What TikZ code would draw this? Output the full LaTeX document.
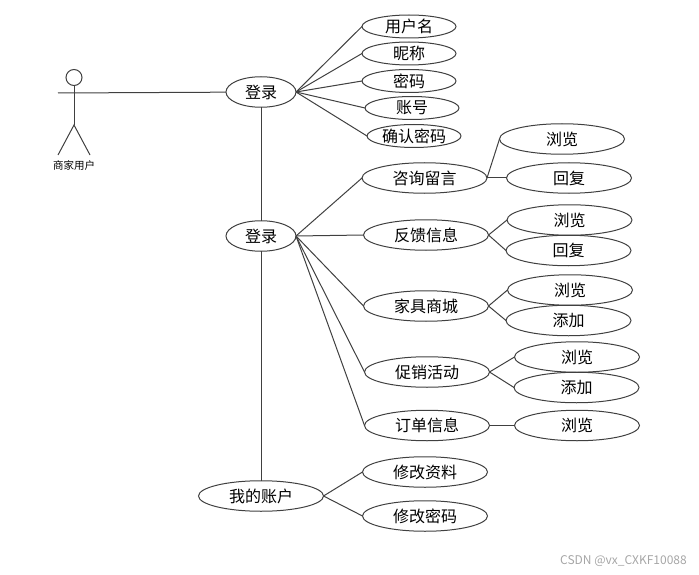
\documentclass[tikz,border=0pt]{standalone}
\usepackage{fontspec}
\setmainfont{Noto Sans CJK SC}
\usetikzlibrary{positioning,shapes.geometric}

\tikzset{
  usecase/.style = {draw, ellipse, inner sep=0pt, outer sep=0pt, on grid, line width=1pt, draw=black!75, font=\fontsize{16pt}{18pt}\selectfont},
  bigcase/.style = {usecase, minimum width=70pt, minimum height=30.5pt},
  midcase/.style = {usecase, minimum width=125pt, minimum height=30.5pt},
  smallcase/.style = {usecase, minimum width=94pt, minimum height=23pt},
  link/.style = {line width=1pt, draw=black!75}
}

\begin{document}
\begin{tikzpicture}
    \useasboundingbox (0pt,0pt) rectangle (699pt,-575pt);
    % usecases of the two levels
    \node (login) [bigcase] at (261pt,-92pt) {登录};
    \node (main) [bigcase, below = 144pt of login] {登录};
    \node (account) [midcase, below = 260pt of main] {我的账户};

    \node (username) [smallcase, above right = 65.5pt and 148pt of login] {用户名};
    \node (nickname) [smallcase, above right = 38.5pt and 148pt of login] {昵称};
    \node (password) [smallcase, above right = 11pt and 148pt of login] {密码};
    \node (number) [smallcase, below right = 16pt and 151pt of login] {账号};
    \node (confirm) [smallcase, below right = 44pt and 153pt of login] {确认密码};

    \node (consult) [midcase, above right = 58pt and 163.5pt of main] {咨询留言};
    \node (feedback) [midcase, above right = 1pt and 165pt of main] {反馈信息};
    \node (shop) [midcase, below right = 70pt and 165pt of main] {家具商城};
    \node (promo) [midcase, below right = 136pt and 166pt of main] {促销活动};
    \node (order) [midcase, below right = 189.5pt and 166pt of main] {订单信息};

    \node (edit) [midcase, above right = 24pt and 164pt of account] {修改资料};
    \node (change) [midcase, below right = 20pt and 164pt of account] {修改密码};

    % leaves
    \node (consultview) [midcase, above right = 39pt and 137.5pt of consult] {浏览};
    \node (consultreply) [midcase, right = 144.5pt of consult] {回复};
    \node (feedbackview) [midcase, above right = 15pt and 143.5pt of feedback] {浏览};
    \node (feedbackreply) [midcase, below right = 15.5pt and 142.5pt of feedback] {回复};
    \node (shopview) [midcase, above right = 16pt and 144pt of shop] {浏览};
    \node (shopadd) [midcase, below right = 14.5pt and 142.5pt of shop] {添加};
    \node (promoview) [midcase, above right = 15pt and 150pt of promo] {浏览};
    \node (promoadd) [midcase, below right = 15.5pt and 149.5pt of promo] {添加};
    \node (orderview) [midcase, right = 150pt of order] {浏览};

    % actor
    \node (head) [circle, draw=black!75, line width=1pt, inner sep=0pt, outer sep=0pt, minimum size=16pt] at (74pt,-77.5pt) {};
    \coordinate (hand) at (58pt,-93pt);
    \coordinate (hip) at (74pt,-125pt);
    \coordinate (footl) at (58pt,-155pt);
    \coordinate (footr) at (90pt,-155pt);
    \node (actor) [below = 5pt of hip |- footl, inner sep=0pt, font=\fontsize{10.5pt}{12pt}\selectfont, anchor=north] {商家用户};
    \draw[link] (head) -- (hip);
    \draw[link] (footl) -- (hip) -- (footr);
    \draw[link] (hand) -- (login);

    \draw[link] (login) -- (main);
    \draw[link] (main) -- (account);
    \foreach \leaf in {username,nickname,password,number,confirm}
      \draw[link] (login.east) -- (\leaf.west);
    \foreach \leaf in {consult,feedback,shop,promo,order}
      \draw[link] (main.east) -- (\leaf.west);
    \foreach \leaf in {edit,change}
      \draw[link] (account.east) -- (\leaf.west);
    \foreach \leaf in {consultview,consultreply}
      \draw[link] (consult.east) -- (\leaf.west);
    \foreach \leaf in {feedbackview,feedbackreply}
      \draw[link] (feedback.east) -- (\leaf.west);
    \foreach \leaf in {shopview,shopadd}
      \draw[link] (shop.east) -- (\leaf.west);
    \foreach \leaf in {promoview,promoadd}
      \draw[link] (promo.east) -- (\leaf.west);
    \draw[link] (order.east) -- (orderview.west);

    \node (mark) [text=black!35, inner sep=0pt, font=\fontsize{12pt}{13pt}\selectfont] at (623.5pt,-561pt) {CSDN @vx\_CXKF10088};
\end{tikzpicture}
\end{document}
